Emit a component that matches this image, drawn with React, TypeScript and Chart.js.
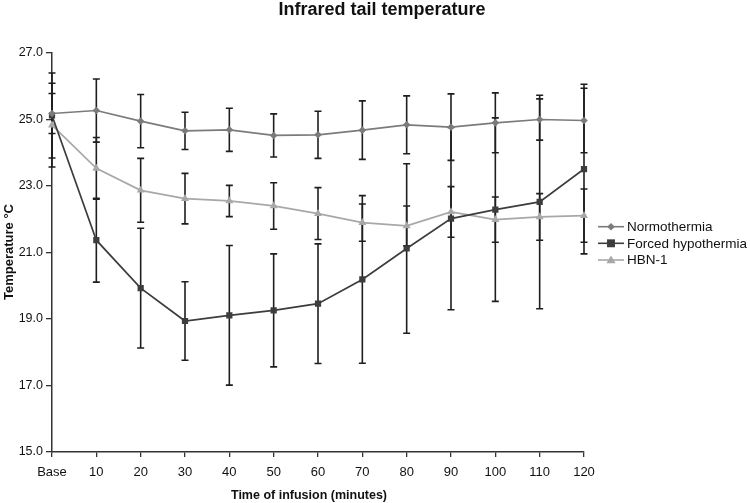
import React, { useEffect, useRef } from "react";
import { Chart, registerables } from "chart.js";

Chart.register(...registerables);

const categories = ["Base", "10", "20", "30", "40", "50", "60", "70", "80", "90", "100", "110", "120"];

const normothermia = [25.18, 25.27, 24.95, 24.66, 24.69, 24.52, 24.54, 24.68, 24.84, 24.77, 24.9, 25.0, 24.97];
const normothermiaErr = [0.6, 0.95, 0.8, 0.56, 0.65, 0.65, 0.71, 0.88, 0.87, 1.0, 0.9, 0.62, 0.97];

const forcedHypothermia = [25.12, 21.37, 19.93, 18.94, 19.11, 19.26, 19.46, 20.19, 21.12, 22.02, 22.29, 22.52, 23.51];
const forcedHypothermiaErr = [1.28, 1.26, 1.8, 1.18, 2.1, 1.7, 1.8, 2.52, 2.55, 2.74, 2.76, 3.21, 2.55];

const hbn1 = [24.83, 23.53, 22.87, 22.62, 22.55, 22.4, 22.17, 21.9, 21.8, 22.22, 21.99, 22.07, 22.11];
const hbn1Err = [1.26, 0.93, 0.96, 0.76, 0.47, 0.7, 0.78, 0.56, 0.6, 0.76, 0.68, 0.7, 0.8];

const yTicks = [15, 17, 19, 21, 23, 25, 27];

const FONT = "'Liberation Sans', Arial, Helvetica, sans-serif";

const seriesStyles = [
  { label: "Normothermia", color: "#7b7b7b", point: "rectRot", radius: 3.8 },
  { label: "Forced hypothermia", color: "#3d3d3d", point: "rect", radius: 4.4 },
  { label: "HBN-1", color: "#a8a8a8", point: "triangle", radius: 4.6 },
];

const errorArrays = [normothermiaErr, forcedHypothermiaErr, hbn1Err];

function drawMarker(ctx: CanvasRenderingContext2D, kind: string, x: number, y: number, r: number, color: string) {
  ctx.save();
  ctx.fillStyle = color;
  ctx.beginPath();
  if (kind === "rectRot") {
    ctx.moveTo(x, y - r);
    ctx.lineTo(x + r, y);
    ctx.lineTo(x, y + r);
    ctx.lineTo(x - r, y);
  } else if (kind === "rect") {
    const s = r * 0.9;
    ctx.rect(x - s, y - s, 2 * s, 2 * s);
  } else {
    ctx.moveTo(x, y - r);
    ctx.lineTo(x + r, y + r * 0.7);
    ctx.lineTo(x - r, y + r * 0.7);
  }
  ctx.closePath();
  ctx.fill();
  ctx.restore();
}

const errorBarPlugin = {
  id: "errorBars",
  beforeDatasetsDraw(chart: any) {
    const ctx = chart.ctx as CanvasRenderingContext2D;
    const xs = chart.scales.x;
    const ys = chart.scales.y;
    ctx.save();
    ctx.strokeStyle = "#1e1e1e";
    ctx.lineWidth = 1.6;
    chart.data.datasets.forEach((ds: any, di: number) => {
      const errs = errorArrays[di];
      ds.data.forEach((v: number, i: number) => {
        const x = xs.getPixelForValue(i);
        const yTop = ys.getPixelForValue(v + errs[i]);
        const yBot = ys.getPixelForValue(v - errs[i]);
        const cap = 3.5;
        ctx.beginPath();
        ctx.moveTo(x, yTop);
        ctx.lineTo(x, yBot);
        ctx.moveTo(x - cap, yTop);
        ctx.lineTo(x + cap, yTop);
        ctx.moveTo(x - cap, yBot);
        ctx.lineTo(x + cap, yBot);
        ctx.stroke();
      });
    });
    ctx.restore();
  },
};

const decorPlugin = {
  id: "decor",
  afterDraw(chart: any) {
    const ctx = chart.ctx as CanvasRenderingContext2D;
    ctx.save();
    ctx.fillStyle = "#111";
    // Title
    ctx.font = `bold 18px ${FONT}`;
    ctx.textAlign = "center";
    ctx.textBaseline = "middle";
    ctx.fillText("Infrared tail temperature", 382, 10);
    // X axis title
    ctx.font = `bold 12.5px ${FONT}`;
    ctx.fillText("Time of infusion (minutes)", 309, 496);
    // Y axis title
    ctx.font = `bold 13px ${FONT}`;
    ctx.save();
    ctx.translate(9, 252);
    ctx.rotate(-Math.PI / 2);
    ctx.fillText("Temperature °C", 0, 0);
    ctx.restore();
    // Legend
    const lx0 = 598;
    const lx1 = 624;
    const rows = [226.7, 243.3, 260];
    ctx.font = `13.5px ${FONT}`;
    ctx.textAlign = "left";
    seriesStyles.forEach((s, i) => {
      const y = rows[i];
      ctx.strokeStyle = s.color;
      ctx.lineWidth = 1.6;
      ctx.beginPath();
      ctx.moveTo(lx0, y);
      ctx.lineTo(lx1, y);
      ctx.stroke();
      drawMarker(ctx, s.point, (lx0 + lx1) / 2, y, s.radius, s.color);
      ctx.fillStyle = "#111";
      ctx.fillText(s.label, 627, y + 0.5);
    });
    ctx.restore();
  },
};

export default function App() {
  const canvasRef = useRef<HTMLCanvasElement | null>(null);

  useEffect(() => {
    if (!canvasRef.current) return;
    const seriesData = [normothermia, forcedHypothermia, hbn1];
    const chart = new Chart(canvasRef.current, {
      type: "line",
      data: {
        labels: categories,
        datasets: seriesStyles.map((s, i) => ({
          label: s.label,
          data: seriesData[i],
          borderColor: s.color,
          backgroundColor: s.color,
          borderWidth: 1.7,
          pointStyle: s.point as any,
          pointRadius: s.radius,
          pointBackgroundColor: s.color,
          pointBorderColor: s.color,
          pointBorderWidth: 0,
          tension: 0,
          fill: false,
        })),
      },
      options: {
        responsive: false,
        animation: false,
        events: [],
        layout: { padding: { top: 53, right: 166, left: 0, bottom: 0 } },
        plugins: {
          legend: { display: false },
          title: { display: false },
          tooltip: { enabled: false },
        },
        scales: {
          x: {
            type: "category",
            offset: false,
            grid: { display: true, drawOnChartArea: false, drawTicks: true, tickLength: 5, color: "#333", lineWidth: 1.3 },
            border: { display: true, color: "#333", width: 1.5 },
            ticks: { font: { size: 13, family: FONT }, color: "#111", padding: 8, maxRotation: 0, autoSkip: false },
            afterFit: (s: any) => {
              s.height = 51;
            },
          },
          y: {
            type: "linear",
            min: 15,
            max: 27,
            afterBuildTicks: (s: any) => {
              s.ticks = yTicks.map((v) => ({ value: v }));
            },
            grid: { display: true, drawOnChartArea: false, drawTicks: true, tickLength: 6, color: "#333", lineWidth: 1.3 },
            border: { display: true, color: "#333", width: 1.5 },
            ticks: {
              font: { size: 12.5, family: FONT },
              color: "#111",
              padding: 3,
              callback: (v: any) => Number(v).toFixed(1),
            },
            afterFit: (s: any) => {
              s.width = 52;
            },
          },
        },
      },
      plugins: [errorBarPlugin, decorPlugin],
    });
    return () => chart.destroy();
  }, []);

  return (
    <div style={{ position: "absolute", left: 0, top: 0, width: 750, height: 503, background: "#fff" }}>
      <canvas ref={canvasRef} width={750} height={503} style={{ width: 750, height: 503, display: "block" }} />
    </div>
  );
}
